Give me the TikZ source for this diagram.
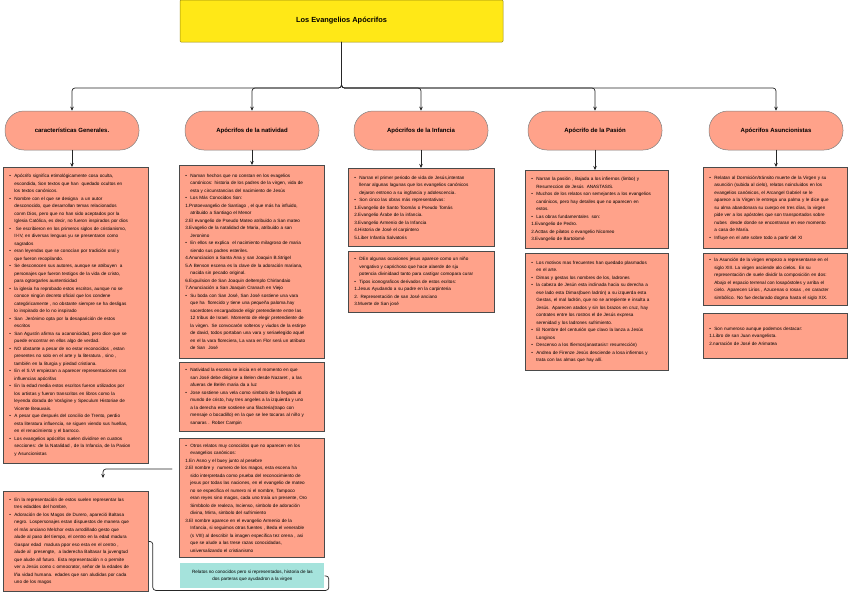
\documentclass[tikz,border=0pt]{standalone}
\usepackage{fontspec}
\setmainfont{Liberation Sans}
\usetikzlibrary{arrows.meta}
\definecolor{salmon}{HTML}{FFA28A}
\definecolor{amarillo}{HTML}{FFE817}
\definecolor{turquesa}{HTML}{A5E3DC}
\definecolor{borde}{HTML}{4A4A4A}
\newcommand\cuerpo{\fontsize{4.6}{7.5}\selectfont}
\newcommand\vi{\makebox[5pt][l]{\textbullet}}
\newcommand\sg{\makebox[5pt]{}}
\tikzset{
  caja/.style={draw=borde, fill=salmon, line width=0.8pt, inner sep=0pt, font=\cuerpo, align=left, anchor=north west},
  pildora/.style={draw=gray, fill=salmon, line width=0.5pt, rounded corners=19pt, minimum width=134pt, minimum height=39pt, font=\fontsize{6}{7}\selectfont\bfseries},
  titulo/.style={draw=amarillo!60!black, fill=amarillo, line width=0.5pt, rounded corners=1pt, minimum width=323pt, minimum height=42pt, font=\fontsize{7.4}{9}\selectfont\bfseries},
  conector/.style={line width=0.7pt, draw=black!85, rounded corners=3pt, -{Stealth[length=4pt,width=3.5pt]}},
}
\begin{document}
\begin{tikzpicture}[x=1pt, y=-1pt, line cap=round]
  \useasboundingbox (0,0) rectangle (848,592);
  % ── título ──
  \node[titulo] (tit) at (341.5,21) {Los Evangelios Apócrifos};
  \coordinate (bus) at (341.5,88);
  % ── las cinco píldoras ──
  \foreach \x/\n/\t in {72/pGen/características Generales., 252/pNat/Apócrifos de la natividad,
      421/pInf/Apócrifos de la Infancia, 595/pPas/Apócrifo de la Pasión, 776/pAsu/Apócrifos Asuncionistas}
    \node[pildora] (\n) at (\x,130.5) {\t};
  % ── características generales ──
  \node[caja, minimum width=145pt, text width=133pt, minimum height=296pt] (gen1) at (3,167) {%
    \vi Apócrifo significa etimológicamente cosa oculta,\\
    \sg escondida, Son textos que han\ \ quedado ocultos en\\
    \sg los textos canónicos.\\
    \vi Nombre con el que se designa\ \ a un autor\\
    \sg desconocido, que desarrollan temas relacionados\\
    \sg conm Dios, pero que no han sido aceptados por la\\
    \sg Iglesia Católica, es decir, no fueron inspirados por dios\\
    \vi \ Se escribieron en los primeros siglos de cristianismo,\\
    \sg II-IV, en diversas lenguas yu se presentaron como\\
    \sg sagrados\\
    \vi eran leyendas que se conocían por tradición oral y\\
    \sg que fueron recopilando.\\
    \vi Se desconocen sus autores, aunque se atribuyen\ \ a\\
    \sg personajes que fueron testigos de la vida de cristo,\\
    \sg para ogtorgarles auntenticidad\\
    \vi la iglesia ha reprobado estos escritos, aunque no se\\
    \sg conoce ningún decreto oficial que los condene\\
    \sg categóricamente , no obstante siempre se ha desligas\\
    \sg lo inspirado de lo no inspirado\\
    \vi San\ \ Jerónimo opta por la desaparición de estos\\
    \sg escritos\\
    \vi San Agustín afirma su acanonicidad, pero dice que se\\
    \sg puede encontrar en ellos algo de verdad.\\
    \vi NO obstante a pesar de no estar reconocidos , estan\\
    \sg presentes no solo en el arte y la literatura , sino ,\\
    \sg también en la liturgia y piedad cristiana.\\
    \vi En el S.VI empiezan a aparecer representaciones con\\
    \sg influencias apócrifas\\
    \vi En la edad media estos escritos fueron utilizados por\\
    \sg los artistas y fueron transcritos en libros como la\\
    \sg leyenda dorada de Vorágine y Speculum Historiae de\\
    \sg Vicente Beauvais.\\
    \vi A pesar que después del concilio de Trento, perdio\\
    \sg esta literatura influencia, se siguen viendo sus huellas,\\
    \sg en el renacimiento y el barroco.\\
    \vi Los evangelios apócrifos suelen dividirse en cuatros\\
    \sg secciones: de la Natalidad , de la Infancia, de la Pasion\\
    \sg y Asuncionistas};
  \node[caja, minimum width=145pt, text width=133pt, minimum height=100pt] (gen2) at (3,491) {%
    \vi En la representación de estos suelen representar las\\
    \sg tres edaddes del hombre,\\
    \vi Adoración de los Magos de Durero, apareció Baltasa\\
    \sg negro. Lospersonajes estan dispuestos de manera que\\
    \sg el más anciano Melchor esta arrodillado gesto que\\
    \sg alude al paso del tiempo, el centro en la edad madura\\
    \sg Gaspar edad\ \ madura ppor eso esta en el centro ,\\
    \sg alude al\ \ presengte,\ \ a laderecha Baltasar la juvengtud\\
    \sg que alude all futuro. Esta representación n o permite\\
    \sg ver a Jesús como c omnocrator, señor de la edades de\\
    \sg lña vidad humana. edades que son aludidas por cada\\
    \sg uno de los magos};
  % ── natividad ──
  \node[caja, minimum width=145pt, text width=133pt, minimum height=193pt] (nat1) at (179,165) {%
    \vi Naman hechos que no constan en los evagelios\\
    \sg canónicos: historia de los padres de la virgen, vida de\\
    \sg esta y circunstancias del nacimiento de Jesús\\
    \vi Los Más Conocidos Son:\\
    1.Protoevangelio de Santiago , el que más ha influido,\\
    \sg atribuido a Santiago el Menor\\
    2.El evangelio de Pseudo Mateo atribuido a San mateo\\
    3.Evagelio de la natalidad de Maria, atribuido a san\\
    \sg Jeronimo\\
    \vi En ellos se explica\ \ el nacimiento milagroso de maria\\
    \sg siendo sus padres esteriles.\\
    4.Anunciacion a Santa Ana y san Joaquin B.Strigel\\
    5.A Benson escena es la clave de la adoración mariana,\\
    \sg nacida sin pecado original.\\
    6.Expuilsion de San Joaquin deltemplo Chirlandaio\\
    7.Anunciación a San Joaquin Cranach en Viejo\\
    \vi Su boda con San José, San José sostiene una vara\\
    \sg que ha\ \ florecido y tiene una pequeña paloma.hay\\
    \sg sacerdotes encargadosde eligir pretendiente entre las\\
    \sg 12 tribus de Israel. Momento de elegir pretendiente de\\
    \sg la virgen. Se convocarón solteros y viudos de la estirpe\\
    \sg de david, todos portaban una vara y seriaelegido aquel\\
    \sg en el la vara floreciera, La vara en Flor será un atributo\\
    \sg de San\ \ José};
  \node[caja, minimum width=145pt, text width=133pt, minimum height=69pt] (nat2) at (179,362) {%
    \vi Natividad la escena se inicia en el momento en que\\
    \sg san José debe dirigirse a Belen desde Nazaret , a las\\
    \sg afueras de Belén maria da a luz\\
    \vi Jose sostiene una vela como simbolo de la llegada al\\
    \sg mundo de cristo, hay tres angeles a la izquierda y uno\\
    \sg a la derecha este sostiene una filacteria(trapo con\\
    \sg mensaje o bocadillo) en la que se lee tocaras al niño y\\
    \sg sanaras . Rober Campin};
  \node[caja, minimum width=145pt, text width=133pt, minimum height=119pt] (nat3) at (179,438) {%
    \vi Otros relatos muy conocidos que no aparecen en los\\
    \sg evangelios canónicos:\\
    1.En Asno y el buey junto al pesebre\\
    2.El nombre y\ \ numero de los magos, esta escena ha\\
    \sg sido interpretada como prueba del reconocimiento de\\
    \sg jesus por todas las naciones, en el evangelio de mateo\\
    \sg no se especifica el numero ni el nombre, Tampoco\\
    \sg eran reyes sino magos, cada uno traía un presente, Oro\\
    \sg Simbbolo de realeza, Incienso, simbolo de adoración\\
    \sg divina, Mirra, simbolo del sufrimiento\\
    3.El nombre aparece en el evangelio Armenio de la\\
    \sg Infancia, si seguimos otras fuentes , Beda el venerable\\
    \sg (s VIII) al describir la imagen especifica tez orena , asi\\
    \sg que se alude a las trese razas conocidadas,\\
    \sg universalizando el cristianismo};
  \node[caja, draw=none, fill=turquesa, align=center, minimum width=144pt, minimum height=25pt] (natRel) at (180,563) {%
    Relatos no conocidos pero si representados, historia de las\\
    dos parteras que ayudadron a la virgen};
  % ── infancia ──
  \node[caja, minimum width=146pt, text width=134pt, minimum height=78pt] (inf1) at (348,168) {%
    \vi Narran el primer periodo de vida de Jesús,intentan\\
    \sg llenar algunas lagunas que los evangelios canónicos\\
    \sg dejaron entrono a su ingfancia y adolescencia.\\
    \vi Son cinco las obras más representativas:\\
    1.Evangelio de Santo Toomás o Pseudo Tomás\\
    2.Evangelio Árabe de la infancia.\\
    3.Evangelio Armenio de la Infancia\\
    4.Historia de José el carpintero\\
    5.Liber Infantia Salvatoris};
  \node[caja, minimum width=146pt, text width=134pt, minimum height=61pt] (inf2) at (348,251) {%
    \vi DEn algunas ocasiones jesus aparece como un niño\\
    \sg vengativo y caprichoso que hace alaerde de sju\\
    \sg potencia divinidaad tanto para castigar comopara curar\\
    \vi Tipos iconograficos derivados de estos ecritos:\\
    1.Jesus Ayudando a su padre en la carpinteria\\
    2. Representación de san José anciano\\
    3.Muerte de San josé};
  % ── pasión ──
  \node[caja, minimum width=143pt, text width=131pt, minimum height=78pt] (pas1) at (525,170) {%
    \vi Narran la pasión , Bajada a los infiernos (limbo) y\\
    \sg Resurreccion de Jesús\ \ ANASTASIS.\\
    \vi Muchos de los relatos son semejantes a los evangelios\\
    \sg canónicos, pero hay detalles que no aparecen en\\
    \sg estos.\\
    \vi Las obras fundamentales\ \ son:\\
    1.Evangelio de Pedro.\\
    2.Acttas de pilatos o evangelio Nicomeo\\
    3.Evangelio de Bartolomé};
  \node[caja, minimum width=143pt, text width=131pt, minimum height=117pt] (pas2) at (525,253) {%
    \vi Los motivos mas frecuentes han quedado plasmados\\
    \sg en el arte.\\
    \vi Dimas y gestas los nombres de los, ladrones\\
    \vi la cabeza de Jesún esta inclinada hacia su derecha a\\
    \sg ese lado esta Dimas(buen ladrón) a su izquerda esta\\
    \sg Gestas, el mal ladrón, que no se arrepiente e insulta a\\
    \sg Jesús. Aparecen atados y sin los brazos en cruz, hay\\
    \sg contrates entre los rostros el de Jesús expresa\\
    \sg serenidad y los ladrones sufrimiento.\\
    \vi El Nombre del centurión que clavo la lanza a Jesús\\
    \sg Longinos\\
    \vi Descenso a los Ifiernos(anastasis= resurrección)\\
    \vi Andrea de Firenze Jesús desciende a losa infiernos y\\
    \sg trata con las almas que hay allí.};
  % ── asuncionistas ──
  \node[caja, minimum width=144pt, text width=132pt, minimum height=81pt] (asu1) at (703,167) {%
    \vi Relatan al Dormición/tránsito muerte de la Virgen y su\\
    \sg asunción (subida al cielo), relatos noincluidos en los\\
    \sg evangelios canónicos, el Arcangel Gabriel se le\\
    \sg aparece a la Virgen le entrega una palma y le dice que\\
    \sg su alma abandonara su cuerpo en tres días, la virgen\\
    \sg pide ver a los apóstoles que son transportados sobre\\
    \sg nubes\ \ desde donde se encontraran en ese momento\\
    \sg a casa de María.\\
    \vi Influye en el arte sobre todo a partir del XI};
  \node[caja, minimum width=144pt, text width=132pt, minimum height=52pt] (asu2) at (703,253) {%
    \vi la Asunción de la virgen empezo a representarse en el\\
    \sg siglo XIII. La virgen asciende alo cielos. En su\\
    \sg representación de suele dividir la composición en dos:\\
    \sg Abajo el espacio terrenal con losapóstoles y arriba el\\
    \sg cielo. Aparecen Lirios , Azucenas o rosas , en caracter\\
    \sg simbólico. No fue declarado dogma hasta el siglo XIX.};
  \node[caja, minimum width=144pt, text width=132pt, minimum height=45pt] (asu3) at (703,313) {%
    \vi Son numeroso aunque podemos destacar:\\
    1.Libro de san Juan evangelista.\\
    2.narración de José de Arimatea};
  % ── conectores ──
  \foreach \n in {pGen,pNat,pInf,pPas,pAsu}
    \draw[conector] (tit.south) |- (\n.north |- bus) -- (\n.north);
  \foreach \n/\b in {pGen/gen1,pNat/nat1,pInf/inf1,pPas/pas1,pAsu/asu1}
    \draw[conector] (\n.south) -- (\n.south |- \b.north);
  \coordinate (sal) at (172,469);
  \coordinate (lle) at (103,478);
  \draw[conector] (sal) -| (lle);
  \draw[line width=0.7pt, draw=black!85, rounded corners=3pt]
    (gen2.east) -- ++(4,0) |- ([xshift=4pt,yshift=-14.5pt]natRel.east) |- (natRel.east);
\end{tikzpicture}
\end{document}
